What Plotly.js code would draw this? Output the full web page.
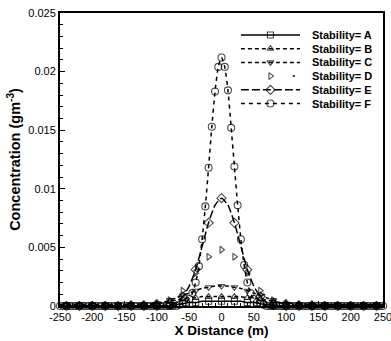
<!DOCTYPE html>
<html>
<head>
<meta charset="utf-8">
<script src="https://cdn.plot.ly/plotly-3.0.1.min.js"></script>
<style>
  html, body { margin: 0; padding: 0; background: #fff; }
  #chart { width: 391px; height: 341px; }
</style>
</head>
<body>
<div id="chart"></div>
<script>
// Downwind distance grids (m)
const xFine = [-250,-245,-240,-235,-230,-225,-220,-215,-210,-205,-200,-195,-190,-185,-180,-175,-170,-165,-160,-155,
  -150,-145,-140,-135,-130,-125,-120,-115,-110,-105,-100,-95,-90,-85,-80,-75,-70,-65,-60,-55,
  -50,-45,-40,-35,-30,-25,-20,-15,-10,-5,0,5,10,15,20,25,30,35,40,45,
  50,55,60,65,70,75,80,85,90,95,100,105,110,115,120,125,130,135,140,145,
  150,155,160,165,170,175,180,185,190,195,200,205,210,215,220,225,230,235,240,245,250];
const xCoarse = [-250,-240,-230,-220,-210,-200,-190,-180,-170,-160,-150,-140,-130,-120,-110,-100,-90,-80,-70,-60,
  -50,-40,-30,-20,-10,0,10,20,30,40,50,60,70,80,90,100,110,120,130,140,
  150,160,170,180,190,200,210,220,230,240,250];

// Concentration (g m^-3) for each stability class
const concA = [0.00003,0.00003,0.00003,0.00003,0.00003,0.00003,0.00003,0.00003,0.00003,0.00003,0.00003,0.00003,0.00003,0.00003,0.00003,0.00003,0.00003,0.00003,
  0.0001,0.0002,0.0003,0.0003,0.0004,0.0004,0.0004,0.0004,0.0004,0.0004,0.0004,0.0003,0.0003,0.0002,0.0001,
  0.00003,0.00003,0.00003,0.00003,0.00003,0.00003,0.00003,0.00003,0.00003,0.00003,0.00003,0.00003,0.00003,0.00003,0.00003,0.00003,0.00003,0.00003];
const concB = [0.0001,0.0001,0.0001,0.0001,0.0001,0.0001,0.0001,0.0001,0.0001,0.0001,0.0001,
  0.0002,0.00015,0.0002,0.0002,0.0003,0.0003,0.0004,0.0005,0.0006,0.0007,0.0007,0.0008,0.0008,0.0008,0.0008,
  0.0008,0.0008,0.0008,0.0007,0.0007,0.0006,0.0005,0.0004,0.0003,0.0003,0.0002,0.0002,0.00015,0.0002,
  0.0001,0.0001,0.0001,0.0001,0.0001,0.0001,0.0001,0.0001,0.0001,0.0001,0.0001];
const concC = [0.0001,0.0001,0.0001,0.0001,0.0001,0.0001,0.0001,0.0001,0.0001,0.0001,0.0001,0.0001,0.0001,0.0001,0.0001,
  0.0002,0.0003,0.0005,0.0007,0.0009,0.0011,0.0013,0.0015,0.0016,0.0017,0.0017,0.0017,0.0016,0.0015,0.0013,0.0011,0.0009,0.0007,0.0005,0.0003,0.0002,
  0.0001,0.0001,0.0001,0.0001,0.0001,0.0001,0.0001,0.0001,0.0001,0.0001,0.0001,0.0001,0.0001,0.0001,0.0001];
const concD = [0.00005,0.00005,0.00005,0.00005,0.00005,0.00005,0.00005,0.00005,0.00005,0.00005,0.00005,0.00005,0.00005,
  0.0001,0.0001,0.0002,0.0003,0.0005,0.0008,0.0013,0.0020,0.0028,0.0035,0.0042,0.0046,0.0048,
  0.0046,0.0042,0.0035,0.0028,0.0020,0.0013,0.0008,0.0005,0.0003,0.0002,0.0001,0.0001,
  0.00005,0.00005,0.00005,0.00005,0.00005,0.00005,0.00005,0.00005,0.00005,0.00005,0.00005,0.00005,0.00005];
const concE = [0,0,0,0,0,0,0,0,0,0,0,0,0,0,0,0,
  0.00005,0.0001,0.0003,0.0008,0.0017,0.0031,0.0051,0.0071,0.0086,0.0092,0.0086,0.0071,0.0051,0.0031,0.0017,0.0008,0.0003,0.0001,0.00005,
  0,0,0,0,0,0,0,0,0,0,0,0,0,0,0,0];
const concF = [0,0,0,0,0,0,0,0,0,0,0,0,0,0,0,0,0,0,0,0,0,0,0,0,0,0,0,0,0,0,0,0,0,0,0,0,0,
  0.0001,0.0002,0.0003,0.0006,0.0011,0.0020,0.0034,0.0057,0.0085,0.0118,0.0153,0.0183,0.0204,
  0.0212,
  0.0204,0.0184,0.0152,0.0119,0.0086,0.0057,0.0035,0.0020,0.0011,0.0006,0.0003,0.0002,0.0001,
  0,0,0,0,0,0,0,0,0,0,0,0,0,0,0,0,0,0,0,0,0,0,0,0,0,0,0,0,0,0,0,0,0,0,0,0,0];

const seriesNames = ['Stability= A','Stability= B','Stability= C','Stability= D','Stability= E','Stability= F'];

// axis tick labels (hyphen-minus, as printed on the chart)
const xTickVals = [-250,-200,-150,-100,-50,0,50,100,150,200,250];
const xTickText = ['-250','-200','-150','-100','-50','0','50','100','150','200','250'];

const font = 'Arial, "Liberation Sans", Helvetica, sans-serif';
const ink = '#000';

// per-series look: dash pattern, open symbol, symbol size
const styles = [
  { dash: 'solid',              symbol: 'square-open',         size: 6 },
  { dash: '4px,3px',            symbol: 'triangle-up-open',    size: 6 },
  { dash: '4px,3px',            symbol: 'triangle-down-open',  size: 6 },
  { dash: '0px,52px,2px,140px', symbol: 'triangle-right-open', size: 6 },
  { dash: '8px,3px',            symbol: 'diamond-open',        size: 7 },
  { dash: '4px,4px',            symbol: 'circle-open',         size: 7 }
];

const xs = [xCoarse, xCoarse, xCoarse, xCoarse, xCoarse, xFine];
const ys = [concA, concB, concC, concD, concE, concF];

// symbols on the 10 m grid are shown every 20 m; the 5 m grid shows every point
function symbolSizes(x, size, fine) {
  return x.map(v => (fine || v % 20 === 0) ? size : 0);
}

const traces = [];
ys.forEach((y, i) => {
  const st = styles[i];
  traces.push({
    type: 'scatter', mode: 'lines+markers', name: seriesNames[i], showlegend: false,
    x: xs[i], y: y, cliponaxis: false,
    line: { color: ink, width: 1.5, dash: st.dash, shape: 'spline', smoothing: 0.6 },
    marker: { symbol: st.symbol, size: symbolSizes(xs[i], st.size, i === 5), color: ink,
              line: { color: ink, width: 1.1 } }
  });
});

// key: a short sample of each line style with its symbol in the middle
ys.forEach((y, i) => {
  const st = styles[i];
  traces.push({
    type: 'scatter', mode: 'lines+markers', showlegend: false, hoverinfo: 'skip',
    xaxis: 'x2', yaxis: 'y2', cliponaxis: false,
    x: [0, 0.5, 1], y: [i, i, i],
    line: { color: ink, width: 1.5, dash: st.dash },
    marker: { symbol: st.symbol, size: [0, st.size, 0], color: ink, line: { color: ink, width: 1.1 } }
  });
});

const keyLabels = seriesNames.map((name, i) => ({
  text: name, xref: 'paper', yref: 'y2', x: 0.774, y: i,
  xanchor: 'left', yanchor: 'middle', showarrow: false,
  font: { family: font, size: 11, color: ink, weight: 'bold' }
}));

const layout = {
  width: 391, height: 341,
  margin: { l: 60, r: 8, t: 13, b: 35 },
  paper_bgcolor: '#fff', plot_bgcolor: 'rgba(0,0,0,0)',
  font: { family: font, color: ink, size: 11 },
  showlegend: false,
  annotations: keyLabels,
  xaxis: {
    range: [-250, 250], tickvals: xTickVals, ticktext: xTickText,
    showgrid: false, zeroline: false,
    showline: true, linecolor: ink, linewidth: 2, mirror: true,
    ticks: 'inside', ticklen: 5, tickwidth: 1, tickcolor: ink,
    minor: { ticks: 'inside', ticklen: 3, tickcolor: ink, dtick: 10 },
    tickfont: { family: font, size: 11, color: ink },
    ticklabeloverflow: 'allow',
    title: { text: 'X Distance (m)', font: { family: font, size: 13.5, color: ink, weight: 'bold' }, standoff: 2 },
    automargin: false
  },
  yaxis: {
    range: [0, 0.025], dtick: 0.005, tick0: 0,
    showgrid: false, zeroline: false,
    showline: true, linecolor: ink, linewidth: 2, mirror: true,
    ticks: 'inside', ticklen: 5, tickwidth: 1, tickcolor: ink,
    minor: { ticks: 'inside', ticklen: 3, tickcolor: ink, dtick: 0.001 },
    tickfont: { family: font, size: 11, color: ink },
    ticklabeloverflow: 'allow',
    title: { text: 'Concentration (gm<sup>-3</sup>)', font: { family: font, size: 14.5, color: ink, weight: 'bold' }, standoff: 4 },
    automargin: false
  },
  xaxis2: { domain: [0.560, 0.743], anchor: 'y2', range: [0, 1], visible: false, fixedrange: true },
  yaxis2: { domain: [0.6677, 0.9483], anchor: 'x2', range: [5.5, -0.5], visible: false, fixedrange: true }
};

Plotly.newPlot('chart', traces, layout, { displayModeBar: false, staticPlot: true });
</script>
</body>
</html>
